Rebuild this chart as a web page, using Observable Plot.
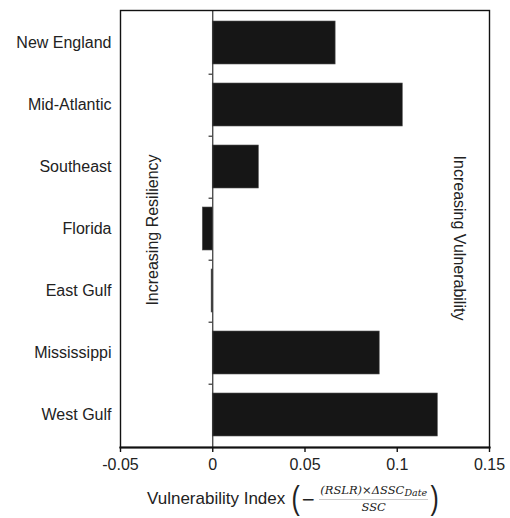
<!DOCTYPE html>
<html>
<head>
<meta charset="utf-8">
<script src="https://cdn.jsdelivr.net/npm/d3@7"></script>
<script src="https://cdn.jsdelivr.net/npm/@observablehq/plot@0.6"></script>
<style>
  html, body { margin: 0; padding: 0; background: #fff; }
  #wrap { position: relative; width: 510px; height: 518px; font-family: "Liberation Sans", Arial, Helvetica, sans-serif; color: #222; }
  #xlabel { position: absolute; left: 147px; top: 480px; height: 38px; display: flex; align-items: center; font-size: 17px; white-space: nowrap; }
  .paren { font-family: "Liberation Sans", Arial, sans-serif; font-size: 33px; font-weight: normal; color: #222; line-height: 1; display: inline-block; transform: scaleX(0.75); margin-top: -3px; }
  .frac { display: inline-flex; flex-direction: column; align-items: center; font-family: "DejaVu Serif", "Liberation Serif", serif; font-style: italic; font-size: 11.5px; line-height: 1.1; margin: 0 1px; }
  .frac .num { border-bottom: 0.5px solid #ccc; padding: 0 1px 1px 1px; }
  .frac .den { padding-top: 1px; }
  .minus { font-family: "DejaVu Sans", sans-serif; font-size: 17px; margin: 0 3px 0 0; }
  sub { font-size: 9.5px; vertical-align: -2px; }
</style>
</head>
<body>
<div id="wrap"></div>
<script>
const regions = ["New England", "Mid-Atlantic", "Southeast", "Florida", "East Gulf", "Mississippi", "West Gulf"];
const values = [0.0666, 0.103, 0.025, -0.0054, -0.0006, 0.0905, 0.122];
const xTicks = [-0.05, 0, 0.05, 0.1, 0.15];
const xTickLabels = ["-0.05", "0", "0.05", "0.1", "0.15"];
const annotations = ["Increasing Resiliency", "Increasing Vulnerability"];
const annotationX = [-0.0322, 0.1333];
const annotationRegion = ["Florida", "Florida"];

const data = regions.map((r, i) => ({region: r, value: values[i]}));
const notes = annotations.map((t, i) => ({text: t, x: annotationX[i], region: annotationRegion[i]}));

const chart = Plot.plot({
  width: 510,
  height: 480,
  marginLeft: 120,
  marginRight: 21,
  marginTop: 10,
  marginBottom: 33,
  style: {fontFamily: '"Liberation Sans", Arial, Helvetica, sans-serif', fontSize: "16px", color: "#222", background: "white"},
  x: {domain: [-0.05, 0.15]},
  y: {domain: regions, paddingInner: 0.3, paddingOuter: 0.15, align: 0.5},
  marks: [
    Plot.barX(data, {x: "value", y: "region", fill: "#161616", stroke: "#555", strokeWidth: 0.6}),
    Plot.ruleX([0], {stroke: "#333", strokeWidth: 1.2}),
    Plot.ruleY(regions.slice(0, 6), {y: d => d, x1: -0.002, x2: 0, dy: 437 / 14, stroke: "#333", strokeWidth: 1.2}),
    Plot.frame({stroke: "#111", strokeWidth: 1.4}),
    Plot.frame({anchor: "bottom", stroke: "#111", strokeWidth: 2.2}),
    Plot.axisX({ticks: xTicks, tickFormat: d => xTickLabels[xTicks.indexOf(d)], tickSize: 5, tickPadding: 6, stroke: "#111", strokeWidth: 1.4, fontSize: 16, label: null}),
    Plot.axisY({tickSize: 0, tickPadding: 9, fontSize: 16, label: null}),
    Plot.text(notes.slice(0, 1), {x: "x", y: "region", text: "text", rotate: -90, dy: 1, fontSize: 16, fill: "#222"}),
    Plot.text(notes.slice(1), {x: "x", y: "region", text: "text", rotate: 90, dy: 9, fontSize: 16, fill: "#222"})
  ]
});

const wrap = document.getElementById("wrap");
wrap.appendChild(chart);
const lab = document.createElement("div");
lab.id = "xlabel";
lab.innerHTML = 'Vulnerability Index&nbsp;<span class="paren">(</span><span class="minus">\u2212</span><span class="frac"><span class="num">(RSLR)\u00d7\u0394SSC<sub>Date</sub></span><span class="den">SSC</span></span><span class="paren">)</span>';
wrap.appendChild(lab);
</script>
</body>
</html>
